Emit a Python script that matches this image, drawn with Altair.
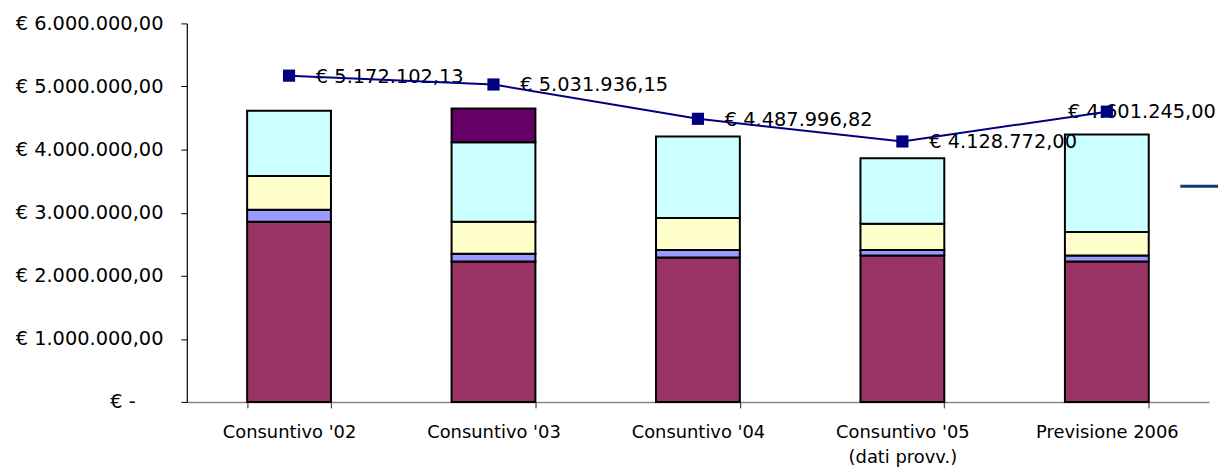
import altair as alt
import pandas as pd

# ---- data ----
categories = ["Consuntivo '02", "Consuntivo '03", "Consuntivo '04",
              "Consuntivo '05|(dati provv.)", "Previsione 2006"]
series_names = ["Voce 1", "Voce 2", "Voce 3", "Voce 4", "Voce 5"]
series_colors = ["#993366", "#9999FF", "#FFFFCC", "#CCFFFF", "#660066"]
voce1 = [2855000, 2225000, 2288000, 2320000, 2225000]
voce2 = [190000, 125000, 120000, 90000, 95000]
voce3 = [535000, 505000, 508000, 414000, 373000]
voce4 = [1035000, 1260000, 1292000, 1039000, 1547000]
voce5 = [0, 535000, 0, 0, 0]
totale = [5172102.13, 5031936.15, 4487996.82, 4128772.00, 4601245.00]
y_ticks = [0, 1000000, 2000000, 3000000, 4000000, 5000000, 6000000]


def eur(v):
    s = f"{v:,.2f}".replace(",", "#").replace(".", ",").replace("#", ".")
    return "€ " + s


series_values = [voce1, voce2, voce3, voce4, voce5]
rows = []
for si, (name, vals) in enumerate(zip(series_names, series_values)):
    for ci, cat in enumerate(categories):
        if vals[ci] > 0:
            rows.append({"cat": cat, "serie": name, "valore": vals[ci], "ord": si})
bars_df = pd.DataFrame(rows)

line_df = pd.DataFrame({
    "cat": categories,
    "valore": totale,
    "label": [eur(v) for v in totale],
    "idx": list(range(len(categories))),
})

FONT = "DejaVu Sans"

x_scale = alt.Scale(domain=categories, paddingInner=0.59, paddingOuter=0.295)
y_scale = alt.Scale(domain=[0, 6000000], nice=False, zero=True)

y_label_expr = (
    "datum.value == 0 ? '€ -' : '€ ' + "
    "replace(replace(replace(format(datum.value, ',.2f'), regexp(',', 'g'), '#'), "
    "regexp('\\\\.', 'g'), ','), regexp('#', 'g'), '.')"
)

x_axis = alt.Axis(
    title=None, labelAngle=0, labelExpr="split(datum.label, '|')",
    labelFont=FONT, labelFontSize=18, labelColor="black",
    labelPadding=16, labelLineHeight=25, tickBand="extent",
    tickSize=6, tickColor="#222222", domainColor="#888888", domainWidth=1.5,
    grid=False,
)
y_axis = alt.Axis(
    title=None, values=y_ticks, labelExpr=y_label_expr,
    labelFont=FONT, labelFontSize=19.5, labelColor="black",
    labelPadding={"condition": {"test": "datum.value == 0", "value": 46}, "value": 18},
    tickSize=6, tickColor="black", domainColor="black",
    domainWidth=1.2, grid=False,
)

bars = alt.Chart(bars_df).mark_bar(stroke="black", strokeWidth=2).encode(
    x=alt.X("cat:N", sort=categories, scale=x_scale, axis=x_axis),
    y=alt.Y("valore:Q", stack="zero", scale=y_scale, axis=y_axis),
    color=alt.Color("serie:N", scale=alt.Scale(domain=series_names, range=series_colors), legend=None),
    order=alt.Order("ord:Q", sort="ascending"),
)

base_line = alt.Chart(line_df).encode(
    x=alt.X("cat:N", sort=categories, scale=x_scale, axis=x_axis),
    y=alt.Y("valore:Q", scale=y_scale, axis=y_axis),
)

labels_right = base_line.transform_filter(alt.datum.idx < 4).mark_text(
    align="left", baseline="middle", dx=27, dy=1, font=FONT, fontSize=19.5, color="black"
).encode(text="label:N")

labels_last = base_line.transform_filter(alt.datum.idx == 4).mark_text(
    align="left", baseline="middle", dx=-39, dy=0, font=FONT, fontSize=19.5, color="black"
).encode(text="label:N")

line = base_line.mark_line(color="#000080", strokeWidth=2)
points = base_line.mark_point(shape="square", filled=True, size=150, color="#000080", opacity=1)

legend_piece = alt.Chart(pd.DataFrame({"k": [0]})).mark_rule(
    color="#0c3c78", strokeWidth=3
).encode(x=alt.value(1000), x2=alt.value(1038), y=alt.value(164))

chart = alt.layer(bars, labels_right, labels_last, line, points, legend_piece).properties(
    width=1029, height=381,
    padding={"left": 180, "top": 14, "right": 9, "bottom": 66},
    autosize=alt.AutoSizeParams(type="none"),
).configure_view(stroke=None)

chart.save("out.html", embed_options={"renderer": "svg", "actions": False})
